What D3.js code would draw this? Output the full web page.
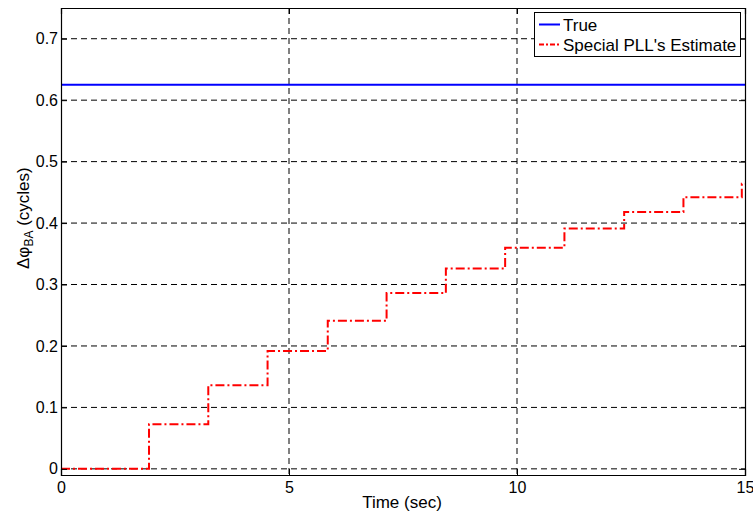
<!DOCTYPE html>
<html><head><meta charset="utf-8">
<script src="https://cdn.jsdelivr.net/npm/d3@7"></script>
<style>body{margin:0;background:#fff}svg{display:block}text{font-family:"Liberation Sans",Arial,sans-serif}</style>
</head><body><svg id="c" width="753" height="514"></svg>
<script>
const xTicks = [0, 5, 10, 15];
const yTicks = [0, 0.1, 0.2, 0.3, 0.4, 0.5, 0.6, 0.7];
const trueValue = 0.625;
const stepTimes = [0, 1.93, 3.23, 4.53, 5.85, 7.14, 8.44, 9.74, 11.04, 12.35, 13.65, 14.93, 15];
const stepValues = [0, 0.0725, 0.136, 0.192, 0.241, 0.286, 0.326, 0.360, 0.391, 0.418, 0.442, 0.464, 0.464];
const legendLabels = ["True", "Special PLL's Estimate"];

const svg = d3.select("#c");
const L = 61, R = 745, T = 8, B = 475;
const x = d3.scaleLinear().domain([0, 15]).range([L, R]);
const y = d3.scaleLinear().domain([-0.01, 0.75]).range([B, T]);
const FONT = '"Liberation Sans", Arial, sans-serif';

// grid
const g = svg.append("g");
g.selectAll(".gx").data(xTicks.slice(1, -1)).join("line")
  .attr("x1", d => x(d)).attr("x2", d => x(d)).attr("y1", T).attr("y2", B)
  .attr("stroke", "#000").attr("stroke-width", 1).attr("stroke-dasharray", "6,4");
g.selectAll(".gy").data(yTicks).join("line")
  .attr("x1", L).attr("x2", R).attr("y1", d => y(d)).attr("y2", d => y(d))
  .attr("stroke", "#000").attr("stroke-width", 1).attr("stroke-dasharray", "6,4");

// data lines
svg.append("line").attr("x1", x(0)).attr("x2", x(15)).attr("y1", y(trueValue)).attr("y2", y(trueValue))
  .attr("stroke", "#0000ff").attr("stroke-width", 2);
const pts = stepTimes.map((t, i) => [t, stepValues[i]]);
svg.append("path").datum(pts)
  .attr("d", d3.line().x(d => x(d[0])).y(d => y(d[1])).curve(d3.curveStepAfter))
  .attr("fill", "none").attr("stroke", "#ff0000").attr("stroke-width", 2)
  .attr("stroke-dasharray", "9,3,2,3");

// axes (box with inward ticks)
const fmt = d => d === 0 ? "0" : d3.format(".1f")(d);
const ax = svg.append("g").attr("transform", `translate(0,${B})`)
  .call(d3.axisBottom(x).tickValues(xTicks).tickSize(-6).tickPadding(6).tickFormat(d3.format("d")));
const ay = svg.append("g").attr("transform", `translate(${L},0)`)
  .call(d3.axisLeft(y).tickValues(yTicks).tickSize(-6).tickPadding(3).tickFormat(fmt));
const at = svg.append("g").attr("transform", `translate(0,${T})`)
  .call(d3.axisTop(x).tickValues(xTicks).tickSize(-6).tickFormat(""));
const ar = svg.append("g").attr("transform", `translate(${R},0)`)
  .call(d3.axisRight(y).tickValues(yTicks).tickSize(-6).tickFormat(""));
[ax, ay, at, ar].forEach(a => {
  a.select(".domain").attr("stroke", "#000").attr("stroke-width", 1.2);
  a.selectAll(".tick line").attr("stroke", "#000");
  a.selectAll("text").attr("font-size", 16).attr("fill", "#000").style("font-family", FONT);
});
ax.selectAll("text").attr("dy", null).attr("y", null).attr("transform", null)
  .attr("y", 18);

// axis labels
svg.append("text").attr("x", 402).attr("y", 508).attr("text-anchor", "middle")
  .attr("font-size", 17).text("Time (sec)");
const yl = svg.append("text").attr("transform", `translate(29,269) rotate(-90)`)
  .attr("text-anchor", "start").attr("font-size", 17);
yl.append("tspan").text("Δφ");
yl.append("tspan").attr("dy", 4).attr("font-size", 12).text("BA");
yl.append("tspan").attr("dy", -4).text(" (cycles)");

// legend
const lg = svg.append("g");
lg.append("rect").attr("x", 534.5).attr("y", 12.5).attr("width", 206).attr("height", 44)
  .attr("fill", "#fff").attr("stroke", "#000").attr("stroke-width", 1);
const styles = [{c: "#0000ff", d: null}, {c: "#ff0000", d: "5,2,2,2"}];
legendLabels.forEach((lab, i) => {
  const yy = 24.5 + i * 20;
  lg.append("line").attr("x1", 539).attr("x2", 560).attr("y1", yy).attr("y2", yy)
    .attr("stroke", styles[i].c).attr("stroke-width", 2)
    .attr("stroke-dasharray", styles[i].d);
  lg.append("text").attr("x", 563).attr("y", yy + 6.5).attr("font-size", 17).text(lab);
});
</script></body></html>
